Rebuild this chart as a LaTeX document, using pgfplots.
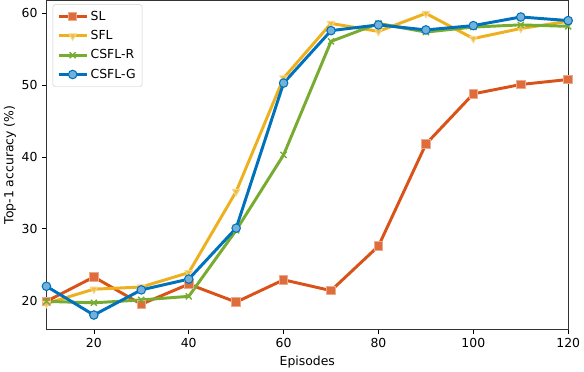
\documentclass[border=0pt]{standalone}
\usepackage{fontspec}
\setmainfont{DejaVu Sans}
\usepackage{pgfplots}
\pgfplotsset{compat=1.18}
\definecolor{cSL}{HTML}{D95319}
\definecolor{cSFL}{HTML}{EDB120}
\definecolor{cCR}{HTML}{77AC30}
\definecolor{cCG}{HTML}{0072BD}
\begin{document}
\begin{tikzpicture}
\begin{axis}[
scale only axis,
width=441pt,
height=278pt,
xmin=10, xmax=120,
ymin=16, ymax=61.8,
xtick={20,40,60,80,100,120},
ytick={20,30,40,50,60},
xlabel={Episodes},
ylabel={Top-1 accuracy (\%)},
tick align=outside,
xtick pos=bottom,
ytick pos=left,
major tick length=4pt,
tick style={black, line width=0.6pt},
axis line style={black!80, line width=0.8pt},
/pgf/number format/assume math mode=true,
ticklabel style={font=\fontsize{10.5}{12}\selectfont},
label style={font=\fontsize{10.5}{12}\selectfont},
ylabel style={yshift=-2pt},
legend style={at={(0.012,0.988)}, anchor=north west, draw=black!20, rounded corners=2pt,
  font=\fontsize{10.5}{12}\selectfont, row sep=3pt, inner sep=3.5pt},
legend cell align=left,
legend image code/.code={
  \draw[mark repeat=2,mark phase=2] plot coordinates {(0cm,0cm) (0.42cm,0cm) (0.84cm,0cm)};
},
every axis plot/.append style={line width=2.5pt, mark size=3.6pt},
]
\addplot[color=cSL, mark=square*, mark options={solid, fill=cSL!85!white, draw=cSL!50!white, line width=0.8pt}] coordinates {
(10,19.9) (20,23.3) (30,19.5) (40,22.3) (50,19.8) (60,22.9) (70,21.4) (80,27.6) (90,41.8) (100,48.8) (110,50.1) (120,50.8)
};
\addplot[color=cSFL, mark=triangle*, mark options={solid, rotate=180, fill=cSFL!85!white, draw=cSFL!50!white, line width=0.8pt}] coordinates {
(10,19.6) (20,21.6) (30,21.9) (40,23.9) (50,35.2) (60,51.0) (70,58.6) (80,57.5) (90,60.0) (100,56.5) (110,57.9) (120,58.9)
};
\addplot[color=cCR, mark=x, mark size=3.6pt, mark options={solid, line width=1.2pt}] coordinates {
(10,19.9) (20,19.7) (30,20.1) (40,20.6) (50,29.8) (60,40.3) (70,56.1) (80,58.6) (90,57.4) (100,58.1) (110,58.4) (120,58.2)
};
\addplot[color=cCG, mark=*, mark options={solid, fill=cCG!55!white, draw=cCG, line width=0.9pt}] coordinates {
(10,22.0) (20,18.0) (30,21.5) (40,23.0) (50,30.1) (60,50.3) (70,57.6) (80,58.4) (90,57.7) (100,58.3) (110,59.5) (120,59.0)
};
\legend{SL, SFL, CSFL-R, CSFL-G}
\end{axis}
\end{tikzpicture}
\end{document}
